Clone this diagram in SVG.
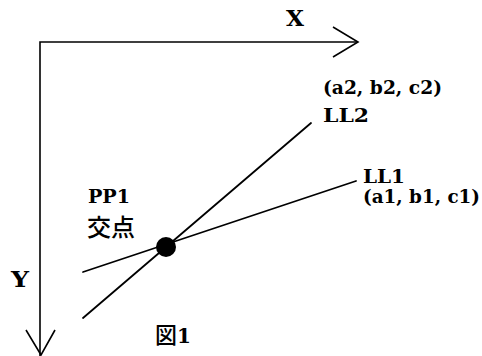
<svg xmlns="http://www.w3.org/2000/svg" width="482" height="356" viewBox="0 0 482 356">
<style>
.ln{stroke:#000;stroke-width:1.8;fill:none;stroke-linecap:round}
.ax{stroke:#000;stroke-width:1.6;fill:none}
.t{font-family:"DejaVu Serif","Liberation Serif",serif;font-size:18px;font-weight:bold;fill:#000}
.big{font-family:"DejaVu Serif","Liberation Serif",serif;font-size:22px;font-weight:bold;fill:#000}
.cjk{font-family:"Noto Sans CJK JP","Noto Sans CJK SC",sans-serif;font-size:24px;font-weight:500;fill:#000}
</style>
<rect width="482" height="356" fill="#fff"/>
<g id="axes">
<polyline class="ax" points="40,356 40,42 358,42"/>
<polyline class="ax" points="333,27 358,42 333,57"/>
<polyline class="ax" points="26,330 41,355 55,330"/>
<text class="big" x="286" y="26" textLength="18" lengthAdjust="spacingAndGlyphs">X</text>
<text class="big" x="11" y="287" textLength="18" lengthAdjust="spacingAndGlyphs">Y</text>
</g>
<g id="connectors">
<line class="ln" x1="311" y1="123" x2="83" y2="318"/>
<line class="ln" x1="356" y1="181" x2="83" y2="272"/>
</g>
<g id="LL2">
<text class="t" x="323" y="94" textLength="119" lengthAdjust="spacingAndGlyphs">(a2, b2, c2)</text>
<text class="t" x="323" y="122" textLength="46" lengthAdjust="spacingAndGlyphs">LL2</text>
</g>
<g id="LL1">
<text class="t" x="363" y="183" textLength="42" lengthAdjust="spacingAndGlyphs">LL1</text>
<text class="t" x="363" y="203" textLength="117" lengthAdjust="spacingAndGlyphs">(a1, b1, c1)</text>
</g>
<g id="PP1">
<circle cx="166" cy="247" r="10" fill="#000"/>
<text class="t" x="88" y="203" textLength="42" lengthAdjust="spacingAndGlyphs">PP1</text>
<text class="cjk" x="87" y="236">交点</text>
</g>
<g id="caption">
<text class="cjk" x="155" y="343" style="font-size:22px">図<tspan style="font-family:'DejaVu Serif',serif;font-size:20px;font-weight:bold">1</tspan></text>
</g>
</svg>
